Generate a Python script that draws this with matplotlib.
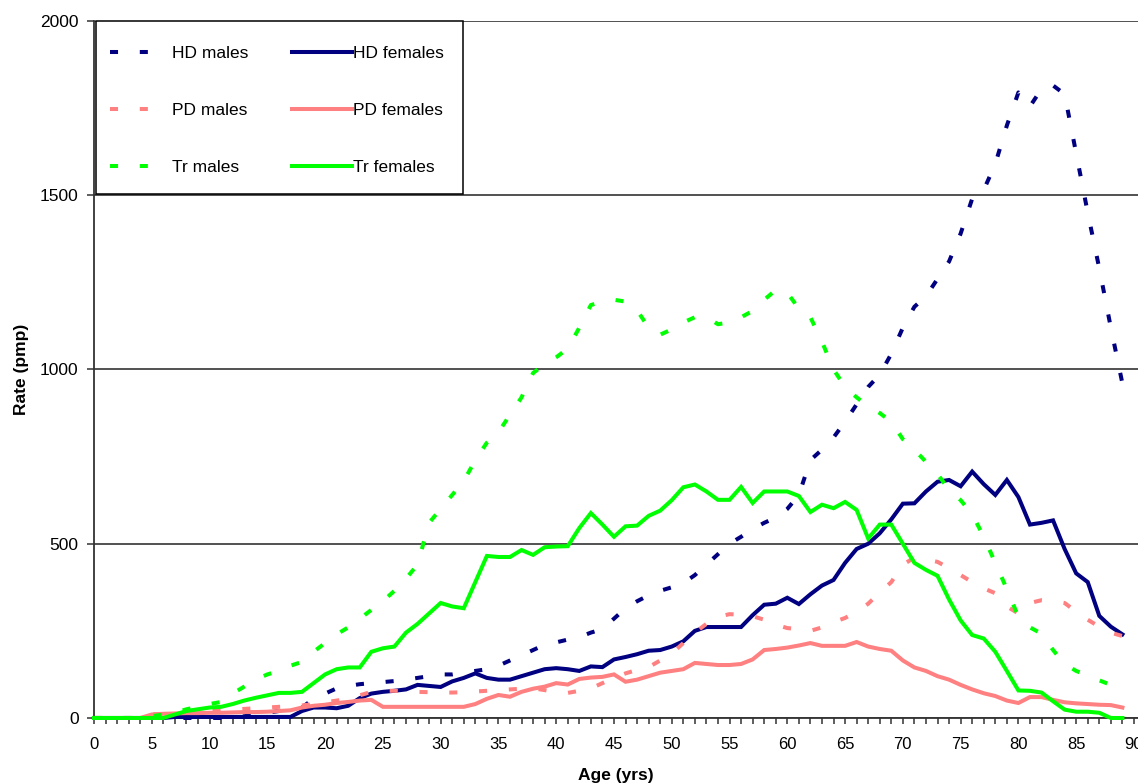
import numpy as np
import matplotlib
matplotlib.use('Agg')
import matplotlib.pyplot as plt
from matplotlib.patches import Rectangle
from matplotlib.ticker import MultipleLocator

plt.rcParams['font.family'] = ['Liberation Sans', 'DejaVu Sans']

# Rates per million population by single year of age (0-89)
ages = np.arange(0, 90)

hd_males = [0] * 13 + [
    5, 10, 15, 20, 25, 30, 55, 70, 85, 92,
    97, 100, 103, 106, 110, 115, 120, 125, 125, 130,
    135, 140, 150, 165, 180, 195, 210, 217, 225, 232,
    245, 255, 285, 315, 335, 352, 365, 375, 387, 410,
    440, 470, 500, 520, 542, 560, 575, 600, 640, 740,
    770, 805, 850, 900, 950, 985, 1045, 1120, 1180, 1210,
    1260, 1310, 1390, 1490, 1515, 1590, 1700, 1795, 1755, 1805,
    1815, 1790, 1620, 1450, 1290, 1120, 960]

hd_females = [0] * 7 + [3] * 11 + [
    20, 30, 30, 28, 35, 57, 70, 75, 78, 82,
    95, 92, 89, 105, 115, 128, 115, 110, 110, 120,
    130, 140, 143, 140, 135, 148, 146, 168, 175, 183,
    193, 195, 205, 220, 250, 261, 261, 261, 261, 295,
    325, 328, 345, 327, 355, 380, 396, 445, 485, 500,
    530, 570, 615, 616, 650, 678, 683, 665, 707, 671,
    640, 683, 634, 555, 560, 567, 485, 415, 390, 293,
    262, 240]

pd_males = [0] * 5 + [
    10, 12, 14, 16, 18, 20, 22, 24, 26, 28,
    30, 32, 34, 36, 40, 45, 50, 55, 65, 75,
    78, 78, 76, 75, 74, 73, 73, 74, 76, 78,
    80, 82, 84, 85, 80, 74, 72, 78, 85, 100,
    115, 128, 138, 146, 165, 185, 215, 245, 270, 290,
    298, 296, 292, 282, 268, 258, 255, 250, 260, 275,
    287, 305, 328, 360, 390, 440, 460, 455, 448, 430,
    410, 390, 372, 358, 320, 300, 330, 338, 335, 330,
    305, 282, 262, 245, 235]

pd_females = [0] * 5 + [
    10, 12, 13, 14, 14, 15, 15, 16, 17, 17,
    18, 20, 22, 30, 35, 38, 43, 46, 50, 52,
    32, 32, 32, 32, 32, 32, 32, 32, 40, 55,
    66, 61, 75, 84, 90, 100, 96, 112, 116, 118,
    125, 104, 110, 120, 130, 135, 140, 158, 155, 152,
    152, 155, 168, 195, 198, 202, 208, 215, 207, 207,
    207, 218, 205, 198, 193, 165, 145, 135, 120, 110,
    95, 82, 71, 63, 50, 43, 60, 60, 52, 45,
    42, 40, 38, 37, 30]

tr_males = [0] * 5 + [
    5, 10, 15, 25, 32, 40, 46, 70, 90, 110,
    125, 135, 150, 161, 190, 215, 240, 260, 285, 310,
    335, 365, 400, 440, 560, 600, 640, 680, 740, 790,
    820, 870, 920, 990, 1015, 1035, 1060, 1120, 1185, 1195,
    1200, 1195, 1170, 1120, 1100, 1115, 1135, 1150, 1150, 1130,
    1135, 1150, 1168, 1200, 1228, 1220, 1175, 1150, 1080, 1000,
    950, 920, 895, 875, 850, 800, 770, 735, 700, 655,
    625, 585, 520, 445, 370, 290, 260, 242, 195, 155,
    135, 122, 108, 95, 90]

tr_females = [0] * 7 + [
    10, 20, 25, 30, 32, 40, 50, 58, 65, 72,
    72, 75, 100, 125, 140, 145, 145, 190, 200, 205,
    245, 270, 300, 330, 320, 315, 390, 465, 462, 462,
    482, 468, 490, 492, 493, 545, 588, 555, 520, 550,
    552, 580, 595, 625, 662, 670, 650, 626, 626, 663,
    617, 650, 650, 650, 637, 591, 612, 602, 620, 597,
    515, 555, 555, 500, 445, 425, 408, 340, 280, 238,
    228, 190, 135, 79, 78, 73, 48, 24, 18, 18,
    15, 0, 0]

navy = '#000080'
pink = '#ff8080'
green = '#00ff00'
dash = (0, (2.0, 5.4))

fig = plt.figure(figsize=(11.38, 7.84), dpi=100)
ax = fig.add_axes([0.0826, 0.0842, 0.9174, 0.889])

series = [
    ('HD males', hd_males, navy, dash),
    ('HD females', hd_females, navy, '-'),
    ('PD males', pd_males, pink, dash),
    ('PD females', pd_females, pink, '-'),
    ('Tr males', tr_males, green, dash),
    ('Tr females', tr_females, green, '-'),
]
handles = {}
for i, (name, vals, col, ls) in enumerate(series):
    ln, = ax.plot(ages, vals, color=col, linestyle=ls, lw=2.9,
                  solid_joinstyle='miter', clip_on=False, zorder=3 + i * 0.1)
    handles[name] = ln

ax.set_xlim(0, 90.35)
ax.set_ylim(0, 2000)
ax.xaxis.set_major_locator(MultipleLocator(5))
ax.xaxis.set_minor_locator(MultipleLocator(1))
ax.yaxis.set_major_locator(MultipleLocator(500))
ax.grid(axis='y', color='#222222', lw=1.1, zorder=1)
ax.set_axisbelow(True)

for s in ['top', 'right']:
    ax.spines[s].set_visible(False)
ax.spines['left'].set_color('#333333')
ax.spines['bottom'].set_color('#333333')
ax.spines['left'].set_linewidth(1.3)
ax.spines['bottom'].set_linewidth(1.3)

ax.tick_params(axis='x', which='both', direction='out', length=4.5, width=1.1,
               color='#333333', labelsize=12, pad=9)
ax.tick_params(axis='y', direction='out', length=5, width=1.1,
               color='#333333', labelsize=12.5, pad=6)

ax.set_xlabel('Age (yrs)', fontsize=12.5, fontweight='bold', labelpad=12)
ax.set_ylabel('Rate (pmp)', fontsize=12.5, fontweight='bold', labelpad=8)

# legend frame with two columns: males (dashed) and females (solid)
ax.add_patch(Rectangle((0.0019, 0.7518), 0.3515, 0.2482, transform=ax.transAxes,
                       facecolor='white', edgecolor='black', lw=1.1,
                       zorder=6, clip_on=False))
leg1 = ax.legend([handles[n] for n in ['HD males', 'PD males', 'Tr males']],
                 ['HD males', 'PD males', 'Tr males'],
                 loc='upper left', bbox_to_anchor=(0.0153, 0.9637),
                 frameon=False, fontsize=12.5, borderpad=0, borderaxespad=0,
                 handlelength=2.6, handletextpad=1.0, labelspacing=2.4)
leg1.set_zorder(7)
ax.add_artist(leg1)
leg2 = ax.legend([handles[n] for n in ['HD females', 'PD females', 'Tr females']],
                 ['HD females', 'PD females', 'Tr females'],
                 loc='upper left', bbox_to_anchor=(0.1897, 0.9637),
                 frameon=False, fontsize=12.5, borderpad=0, borderaxespad=0,
                 handlelength=3.46, handletextpad=0.05, labelspacing=2.4)
leg2.set_zorder(7)

fig.savefig('out.png', dpi=100)
